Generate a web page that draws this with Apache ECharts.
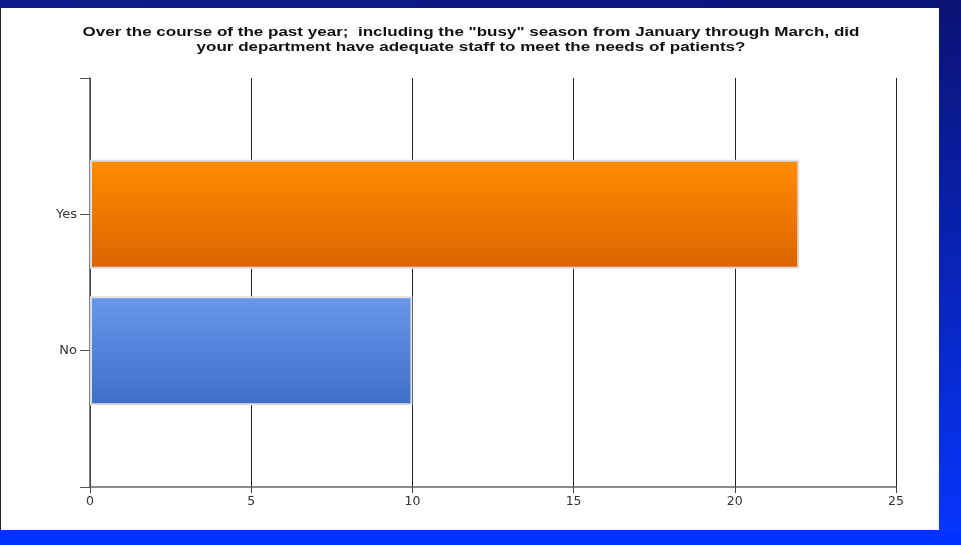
<!DOCTYPE html>
<html>
<head>
<meta charset="utf-8">
<style>
  html, body { margin: 0; padding: 0; background: #ffffff; }
  #chart { width: 961px; height: 545px; }
</style>
<script src="https://cdn.jsdelivr.net/npm/echarts@6/dist/echarts.min.js"></script>
</head>
<body>
<div id="chart"></div>
<script>
// Survey responses
const categories = ['Yes', 'No'];
const responses = [22, 10];
const xTicks = [0, 5, 10, 15, 20, 25];
const titleLines = [
  'Over the course of the past year;  including the "busy" season from January through March, did',
  'your department have adequate staff to meet the needs of patients?'
];

const barGradients = {
  Yes: ['#ff8c00', '#da6400'],
  No: ['#6898ec', '#3e6fc6']
};

// Category axis with empty end slots so each answer sits on a tick
const yCats = [''].concat(categories.slice().reverse(), ['']);

const chart = echarts.init(document.getElementById('chart'), null, { renderer: 'canvas' });

const grad = (c0, c1) => new echarts.graphic.LinearGradient(0, 0, 0, 1, [
  { offset: 0, color: c0 }, { offset: 1, color: c1 }
]);

const axisFont = '"DejaVu Sans", Verdana, sans-serif';

chart.setOption({
  backgroundColor: '#ffffff',
  animation: false,
  graphic: [
    // slide frame: top band, right band, bottom band
    { type: 'rect', z: -10, shape: { x: 0, y: 0, width: 961, height: 8 },
      style: { fill: new echarts.graphic.LinearGradient(0, 0, 1, 0, [
        { offset: 0, color: '#0c1c8c' }, { offset: 1, color: '#0a1478' }]) } },
    { type: 'rect', z: -10, shape: { x: 939, y: 0, width: 22, height: 545 },
      style: { fill: new echarts.graphic.LinearGradient(0, 0, 0, 1, [
        { offset: 0, color: '#0a1272' }, { offset: 1, color: '#0636ff' }]) } },
    { type: 'rect', z: -10, shape: { x: 0, y: 530, width: 961, height: 15 },
      style: { fill: '#0033ff' } },
    { type: 'rect', z: -10, shape: { x: 0, y: 8, width: 1, height: 522 },
      style: { fill: '#222222' } },
    // two-line question, drawn wide
    { type: 'text', x: 471, y: 25, scaleX: 1.31, z: 10, style: {
        text: titleLines.join('\n'), align: 'center', verticalAlign: 'top',
        font: 'bold 13px "Liberation Sans", Arial, sans-serif', fill: '#111111',
        lineHeight: 15 } }
  ],
  grid: { left: 90, right: 65, top: 78, bottom: 58, containLabel: false },
  xAxis: {
    type: 'value', min: 0, max: 25, interval: 5,
    axisLine: { show: true, lineStyle: { color: '#666666', width: 1.5 } },
    axisTick: { show: true, length: 6, lineStyle: { color: '#444444' } },
    axisLabel: {
      color: '#333333', fontSize: 12.5, margin: 8,
      fontFamily: axisFont,
      customValues: xTicks
    },
    splitLine: { show: true, lineStyle: { color: '#222222', width: 1 } }
  },
  yAxis: {
    type: 'category', data: yCats, boundaryGap: false,
    axisLine: { show: true, lineStyle: { color: '#555555', width: 1.5 } },
    axisTick: { show: true, length: 10, inside: false, alignWithLabel: true,
      lineStyle: { color: '#555555' } },
    axisLabel: { color: '#333333', fontSize: 13, margin: 13, interval: 0,
      fontFamily: axisFont },
    splitLine: { show: false }
  },
  series: [{
    type: 'bar',
    barWidth: 109,
    z: 5,
    data: categories.map((c, i) => ({
      value: [responses[i], c],
      itemStyle: {
        color: grad(barGradients[c][0], barGradients[c][1]),
        borderColor: '#dedede', borderWidth: 2
      }
    }))
  }]
});
</script>
</body>
</html>
